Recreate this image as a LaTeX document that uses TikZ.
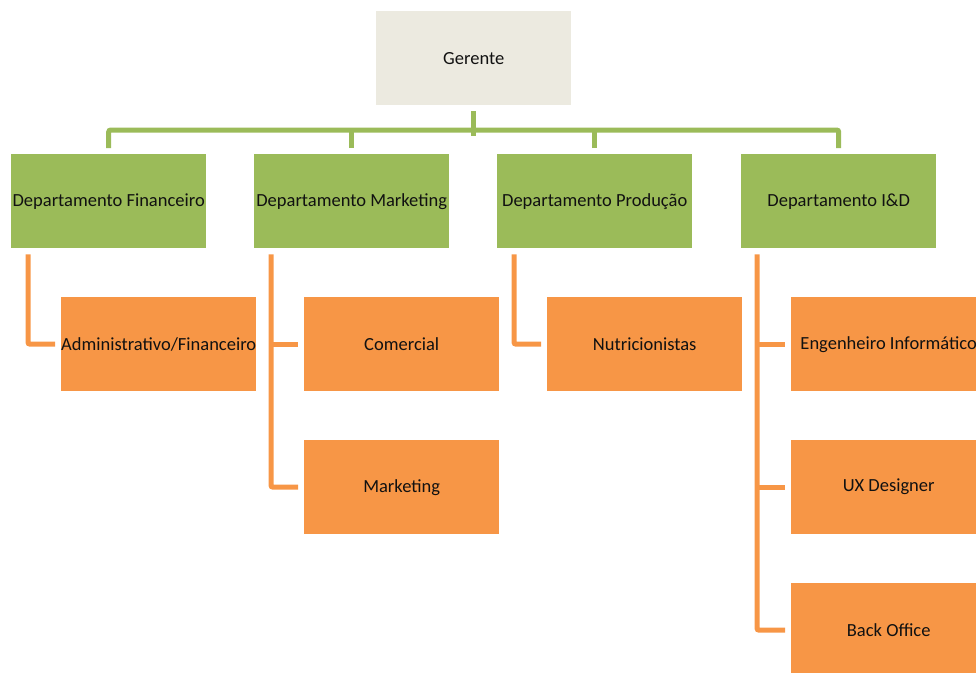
\documentclass[tikz,border=0pt]{standalone}
\usepackage{fontspec}
\setmainfont{Carlito}
\definecolor{gerfill}{HTML}{ECEAE0}
\definecolor{depgreen}{HTML}{9BBB59}
\definecolor{suborange}{HTML}{F79646}
\definecolor{txt}{HTML}{111111}
\begin{document}
\begin{tikzpicture}[x=1pt,y=-1pt,
  box/.style={rectangle, minimum width=195pt, minimum height=94pt, inner sep=0pt, anchor=north west, text=txt, font=\fontsize{18.5}{22}\selectfont},
  topbox/.style={box, fill=gerfill},
  depbox/.style={box, fill=depgreen},
  subbox/.style={box, fill=suborange},
  gline/.style={draw=depgreen, line width=5pt, rounded corners=2pt},
  oline/.style={draw=suborange, line width=5pt, rounded corners=2pt}]
\useasboundingbox (0,0) rectangle (976,672);
\node[topbox] (ger) at (376,11) {Gerente};
\node[depbox] (d1) at (11,154) {Departamento Financeiro};
\node[depbox] (d2) at (254,154) {Departamento Marketing};
\node[depbox] (d3) at (497,154) {Departamento Produção};
\node[depbox] (d4) at (741,154) {Departamento I\&D};
\node[subbox] (s1) at (61,297) {Administrativo/Financeiro};
\node[subbox] (s2) at (304,297) {Comercial};
\node[subbox] (s3) at (304,440) {Marketing};
\node[subbox] (s4) at (547,297) {Nutricionistas};
\node[subbox] (s5) at (791,297) {Engenheiro Informático};
\node[subbox] (s6) at (791,440) {UX Designer};
\node[subbox] (s7) at (791,583) {Back Office};
\coordinate (bus) at (0,130);
% green connectors
\draw[gline] ([yshift=-6pt]ger.south) -- ([yshift=-6pt]ger.south |- bus);
\draw[gline] ([yshift=6pt]d1.north) -- (d1.north |- bus) -- (d4.north |- bus) -- ([yshift=6pt]d4.north);
\draw[gline] ([yshift=6pt]d2.north) -- (d2.north |- bus);
\draw[gline] ([yshift=6pt]d3.north) -- (d3.north |- bus);
% orange connectors
\draw[oline] ([xshift=17pt,yshift=-6pt]d1.south west) |- ([xshift=-6pt]s1.west);
\draw[oline] ([xshift=17pt,yshift=-6pt]d2.south west) |- ([xshift=-6pt]s3.west);
\draw[oline] ([xshift=17pt]d2.south west |- s2.west) -- ([xshift=-6pt]s2.west);
\draw[oline] ([xshift=17pt,yshift=-6pt]d3.south west) |- ([xshift=-6pt]s4.west);
\draw[oline] ([xshift=16pt,yshift=-6pt]d4.south west) |- ([xshift=-6pt]s7.west);
\draw[oline] ([xshift=16pt]d4.south west |- s5.west) -- ([xshift=-6pt]s5.west);
\draw[oline] ([xshift=16pt]d4.south west |- s6.west) -- ([xshift=-6pt]s6.west);
\end{tikzpicture}
\end{document}
